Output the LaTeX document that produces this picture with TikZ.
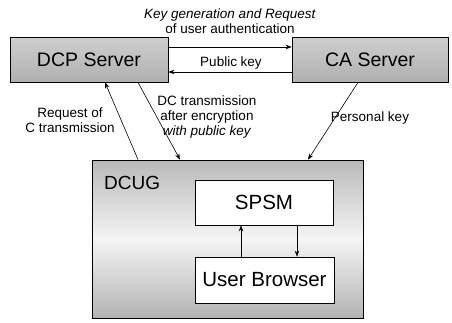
\documentclass[tikz,border=0pt]{standalone}
\usepackage{fontspec}
\setmainfont{Liberation Sans}
\usetikzlibrary{arrows.meta}
\begin{document}
\begin{tikzpicture}[x=1pt,y=-1pt,
  server/.style={draw=black, line width=0.8pt, top color=gray!38, bottom color=gray!62,
    minimum width=#1, minimum height=45pt, inner sep=0pt,
    font=\fontsize{19.5}{20}\selectfont},
  whitebox/.style={draw=black, line width=0.7pt, fill=white, minimum width=138pt,
    minimum height=45pt, inner sep=0pt, font=\fontsize{20.5}{21}\selectfont},
  lbl/.style={align=center, inner sep=0pt, font=\fontsize{13.5}{15}\selectfont},
  link/.style={draw=black, line width=0.6pt, -{Stealth[length=6pt,width=4.5pt]}}]
\useasboundingbox (0,0) rectangle (452,322);

% servers
\node[server=158pt] (dcp) at (89,59.5) {DCP Server};
\node[server=156pt] (ca) at (370,59.5) {CA Server};

% user-side group: gray frame, lighter band across the middle
\node[draw=black, line width=0.8pt, minimum width=271pt, minimum height=158pt, inner sep=0pt,
  top color=gray!55, bottom color=gray!60, middle color=gray!8] (dcug) at (227.5,239) {};
\node[anchor=west, inner sep=0pt, font=\fontsize{19}{20}\selectfont] (dcuglbl) at (104,183) {DCUG};
\node[whitebox] (spsm) at (264,202.5) {SPSM};
\node[whitebox, minimum width=139pt, minimum height=46pt] (ub) at (264.5,280) {User Browser};

% server-to-server exchange
\draw[link] ([yshift=12.5pt]dcp.east) -- ([yshift=12.5pt]ca.west);
\draw[link] ([yshift=-12.5pt]ca.west) -- ([yshift=-12.5pt]dcp.east);
\node[lbl] (keygen) at (230,21) {\textit{Key generation and Request}\\of user authentication};
\node[lbl] (pubkey) at (231,63) {Public key};

% links between servers and the group
\draw[link] ([xshift=-89.5pt]dcug.north) -- ([xshift=16pt]dcp.south);
\draw[link] ([xshift=49pt]dcp.south) -- ([xshift=-47.5pt]dcug.north);
\draw[link] ([xshift=-12pt]ca.south) -- ([xshift=80.5pt]dcug.north);
\node[lbl] (reqc) at (70,120) {Request of\\C transmission};
\node[lbl] (dctx) at (207,117) {DC transmission\\after encryption\\\textit{with public key}};
\node[lbl] (perskey) at (370,118) {Personal key};

% inside the group
\draw[link] ([xshift=-23.5pt]ub.north) -- ([xshift=-23pt]spsm.south);
\draw[link] ([xshift=33pt]spsm.south) -- ([xshift=32.5pt]ub.north);
\end{tikzpicture}
\end{document}
